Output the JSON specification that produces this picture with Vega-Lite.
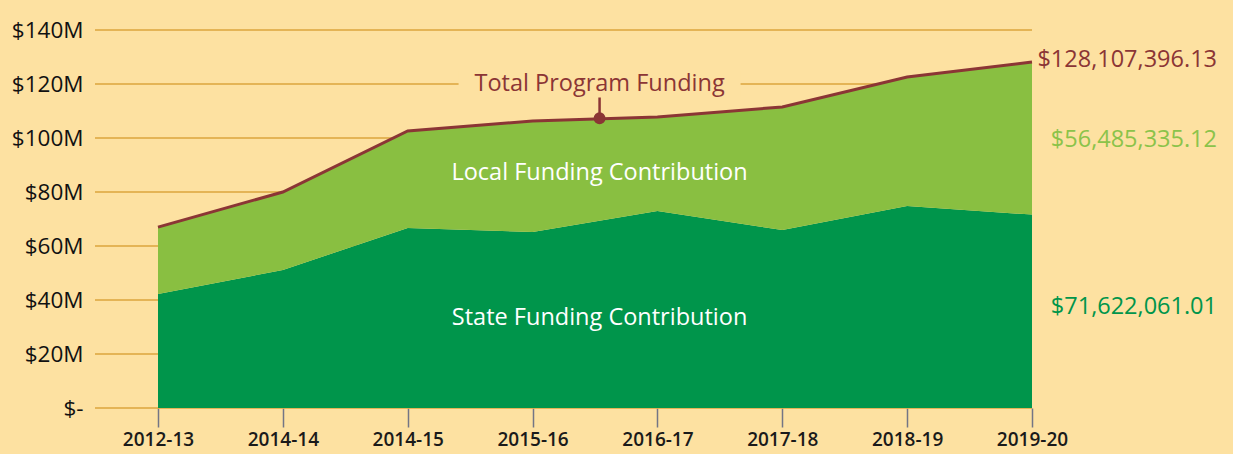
{
  "$schema": "https://vega.github.io/schema/vega-lite/v6.json",
  "width": 937,
  "height": 378,
  "autosize": {"type": "none"},
  "padding": {"left": 95, "top": 30, "right": 201, "bottom": 46},
  "background": "#FDE1A1",
  "config": {"view": {"stroke": null}, "font": "Open Sans"},
  "data": {
    "values": [
      {"year": "2012-13", "state": 42200000, "local": 24800000, "total": 67000000},
      {"year": "2014-14", "state": 51100000, "local": 28900000, "total": 80000000},
      {"year": "2014-15", "state": 66700000, "local": 35900000, "total": 102600000},
      {"year": "2015-16", "state": 65200000, "local": 41100000, "total": 106300000},
      {"year": "2016-17", "state": 73000000, "local": 34800000, "total": 107800000},
      {"year": "2017-18", "state": 65900000, "local": 45600000, "total": 111500000},
      {"year": "2018-19", "state": 74800000, "local": 47800000, "total": 122600000},
      {"year": "2019-20", "state": 71622061.01, "local": 56485335.12, "total": 128107396.13}
    ]
  },
  "layer": [
    {
      "data": {"values": [{"g": 0}, {"g": 20000000}, {"g": 40000000}, {"g": 60000000}, {"g": 80000000}, {"g": 100000000}, {"g": 120000000}, {"g": 140000000}]},
      "mark": {"type": "rule", "color": "#DBA43E", "strokeWidth": 1.7},
      "encoding": {
        "y": {
          "field": "g", "type": "quantitative",
          "scale": {"domain": [0, 140000000], "nice": false},
          "axis": {"title": null, "values": [0,20000000,40000000,60000000,80000000,100000000,120000000,140000000], "labelExpr": "datum.value == 0 ? '$-' : '$' + round(datum.value/1000000) + 'M'", "grid": false, "domain": false, "ticks": false, "labelFontSize": 22.5, "labelColor": "#111111", "labelPadding": 12}
        }
      }
    },
    {
      "transform": [{"fold": ["state", "local"], "as": ["type", "value"]}],
      "mark": {"type": "area", "interpolate": "linear"},
      "encoding": {
        "x": {
          "field": "year", "type": "ordinal",
          "scale": {"type": "point", "domain": ["2012-13","2014-14","2014-15","2015-16","2016-17","2017-18","2018-19","2019-20"], "range": [63, 937], "padding": 0},
          "axis": {"title": null, "labelAngle": 0, "domain": false, "grid": false, "ticks": true, "tickColor": "#737585", "tickSize": 19, "tickWidth": 1.5, "labelFontSize": 19, "labelFontWeight": 600, "labelColor": "#1a1a1a", "labelPadding": 3}
        },
        "y": {"field": "value", "type": "quantitative", "stack": "zero"},
        "color": {"field": "type", "type": "nominal", "scale": {"domain": ["state", "local"], "range": ["#00954B", "#89BF41"]}, "legend": null},
        "order": {"field": "type", "sort": "descending"}
      }
    },
    {
      "mark": {"type": "line", "color": "#8B3535", "strokeWidth": 3},
      "encoding": {
        "x": {"field": "year", "type": "ordinal"},
        "y": {"field": "total", "type": "quantitative"}
      }
    },
    {
      "data": {"values": [{}]},
      "mark": {"type": "tick", "orient": "horizontal", "color": "#FDE1A1", "opacity": 1, "size": 282, "thickness": 26, "xOffset": 67},
      "encoding": {"x": {"datum": "2015-16", "type": "ordinal"}, "y": {"datum": 120000000, "type": "quantitative"}}
    },
    {
      "data": {"values": [{}]},
      "mark": {"type": "rule", "color": "#8B3535", "strokeWidth": 2.5, "xOffset": 67},
      "encoding": {"x": {"datum": "2015-16", "type": "ordinal"}, "y": {"datum": 107300000, "type": "quantitative"}, "y2": {"datum": 115000000}}
    },
    {
      "data": {"values": [{}]},
      "mark": {"type": "point", "filled": true, "color": "#8B3535", "opacity": 1, "size": 140, "xOffset": 67},
      "encoding": {"x": {"datum": "2015-16", "type": "ordinal"}, "y": {"datum": 107300000, "type": "quantitative"}}
    },
    {
      "data": {"values": [{"t": "Total Program Funding"}]},
      "mark": {"type": "text", "color": "#8B3535", "fontSize": 23.5, "baseline": "middle", "align": "center", "xOffset": 67},
      "encoding": {"x": {"datum": "2015-16", "type": "ordinal"}, "y": {"datum": 120000000, "type": "quantitative"}, "text": {"field": "t"}}
    },
    {
      "data": {"values": [{"t": "Local Funding Contribution", "v": 87000000}, {"t": "State Funding Contribution", "v": 33300000}]},
      "mark": {"type": "text", "color": "#FFFFFF", "fontSize": 23.5, "baseline": "middle", "align": "center", "xOffset": 67},
      "encoding": {"x": {"datum": "2015-16", "type": "ordinal"}, "y": {"field": "v", "type": "quantitative"}, "text": {"field": "t"}}
    },
    {
      "data": {"values": [
        {"t": "$128,107,396.13", "v": 128900000, "k": "total"},
        {"t": "$56,485,335.12", "v": 99300000, "k": "local"},
        {"t": "$71,622,061.01", "v": 37400000, "k": "state"}
      ]},
      "mark": {"type": "text", "fontSize": 23.5, "baseline": "middle", "align": "right", "dx": 185},
      "encoding": {
        "x": {"datum": "2019-20", "type": "ordinal"},
        "y": {"field": "v", "type": "quantitative"},
        "text": {"field": "t"},
        "color": {"field": "k", "type": "nominal", "scale": {"domain": ["total", "local", "state"], "range": ["#8B3535", "#8BC34A", "#00954B"]}, "legend": null}
      }
    }
  ],
  "resolve": {"scale": {"color": "independent"}}
}
